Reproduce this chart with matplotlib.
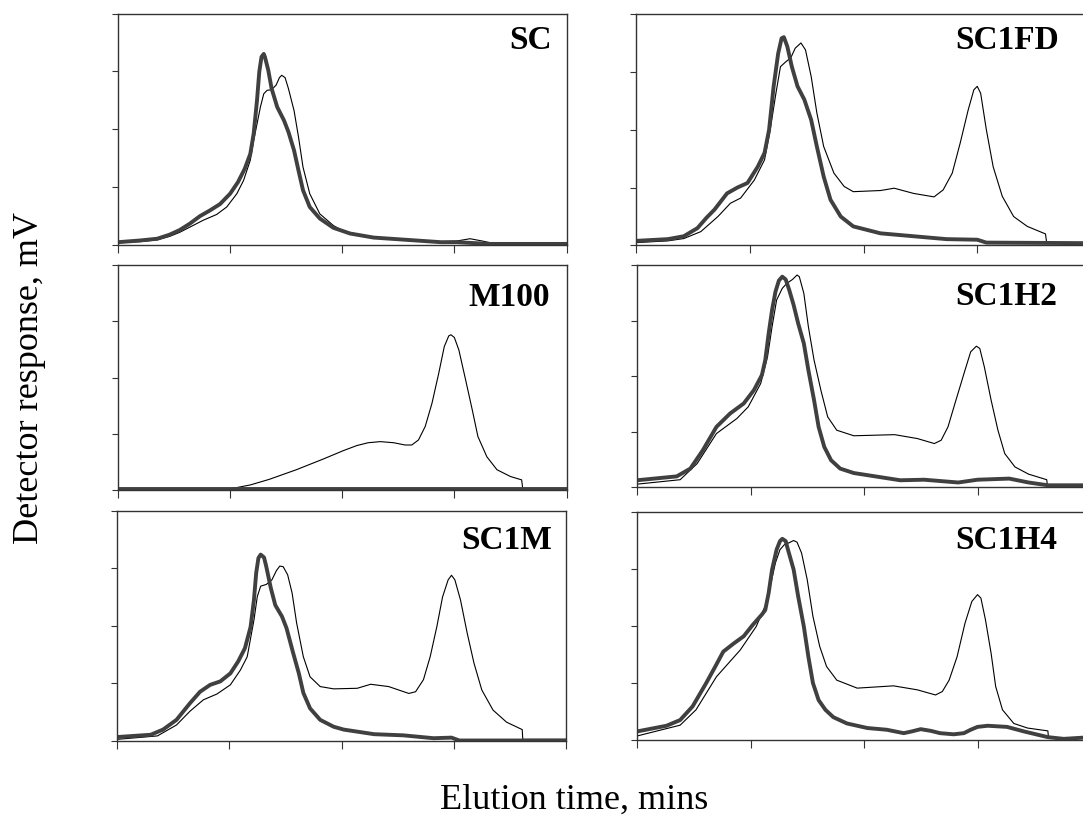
import matplotlib
matplotlib.use('Agg')
import matplotlib.pyplot as plt

plt.rcParams['font.family'] = ['Liberation Serif', 'DejaVu Serif']

# panel names
names = ['SC', 'SC1FD', 'M100', 'SC1H2', 'SC1M', 'SC1H4']

# SC
sc_thin_x = [0.0, 0.20, 0.35, 0.46, 0.55, 0.64, 0.76, 0.88, 0.97, 1.06, 1.12, 1.18, 1.21, 1.24, 1.27,
             1.30, 1.33, 1.37, 1.41, 1.44, 1.46, 1.49, 1.52, 1.57, 1.61, 1.65, 1.71, 1.80, 1.92, 2.01,
             2.28, 2.58, 2.88, 3.02, 3.14, 3.25, 3.32, 3.6, 4.0]
sc_thin_y = [0.03, 0.05, 0.08, 0.14, 0.21, 0.30, 0.42, 0.52, 0.65, 0.88, 1.11, 1.46, 1.80, 2.09, 2.38,
             2.61, 2.67, 2.68, 2.76, 2.89, 2.93, 2.89, 2.70, 2.32, 1.86, 1.34, 0.88, 0.53, 0.33, 0.23,
             0.12, 0.08, 0.05, 0.06, 0.10, 0.06, 0.03, 0.01, 0.01]
sc_thick_x = [0.0, 0.20, 0.35, 0.46, 0.55, 0.64, 0.73, 0.82, 0.91, 1.0, 1.07, 1.13, 1.18, 1.21, 1.24,
              1.26, 1.28, 1.30, 1.31, 1.34, 1.37, 1.42, 1.48, 1.52, 1.57, 1.61, 1.65, 1.71, 1.80, 1.92,
              2.07, 2.28, 2.58, 2.88, 3.02, 3.32, 4.0]
sc_thick_y = [0.04, 0.07, 0.10, 0.17, 0.25, 0.36, 0.49, 0.59, 0.70, 0.88, 1.08, 1.31, 1.57, 1.92, 2.50,
              2.99, 3.25, 3.30, 3.25, 3.02, 2.70, 2.38, 2.15, 1.95, 1.63, 1.28, 0.94, 0.65, 0.45, 0.29,
              0.19, 0.12, 0.08, 0.04, 0.04, 0.01, 0.01]

# SC1FD
fd_thin_x = [0.0, 0.28, 0.42, 0.57, 0.72, 0.83, 0.92, 1.04, 1.13, 1.18, 1.23, 1.27, 1.32, 1.36, 1.40,
             1.45, 1.49, 1.54, 1.59, 1.65, 1.74, 1.83, 1.91, 2.15, 2.27, 2.44, 2.62, 2.70, 2.78, 2.85,
             2.92, 2.97, 3.00, 3.03, 3.08, 3.14, 3.22, 3.32, 3.44, 3.60, 3.61, 4.0]
fd_thin_y = [0.05, 0.08, 0.12, 0.24, 0.50, 0.73, 0.82, 1.13, 1.48, 2.00, 2.63, 3.09, 3.18, 3.24, 3.41,
             3.50, 3.38, 2.92, 2.29, 1.71, 1.25, 1.02, 0.93, 0.95, 0.99, 0.90, 0.84, 0.96, 1.25, 1.77,
             2.34, 2.69, 2.75, 2.63, 2.00, 1.36, 0.85, 0.50, 0.33, 0.20, 0.05, 0.03]
fd_thick_x = [0.0, 0.28, 0.42, 0.54, 0.62, 0.69, 0.80, 0.89, 0.98, 1.07, 1.13, 1.17, 1.21, 1.25, 1.28,
              1.30, 1.33, 1.37, 1.42, 1.48, 1.54, 1.59, 1.65, 1.71, 1.80, 1.91, 2.15, 2.44, 2.73, 3.00,
              3.08, 4.0]
fd_thick_y = [0.08, 0.11, 0.16, 0.30, 0.48, 0.62, 0.90, 1.00, 1.08, 1.36, 1.60, 2.00, 2.75, 3.32, 3.58,
              3.60, 3.44, 3.09, 2.75, 2.52, 2.17, 1.71, 1.19, 0.79, 0.50, 0.33, 0.21, 0.16, 0.11, 0.10,
              0.05, 0.04]

# M100
m_thin_x = [0.0, 1.0, 1.18, 1.35, 1.59, 1.83, 2.01, 2.13, 2.23, 2.34, 2.46, 2.56, 2.62, 2.68, 2.74,
            2.80, 2.86, 2.91, 2.95, 2.97, 3.00, 3.04, 3.10, 3.16, 3.21, 3.29, 3.38, 3.50, 3.60, 3.61,
            4.0]
m_thin_y = [0.02, 0.02, 0.09, 0.19, 0.36, 0.55, 0.70, 0.79, 0.84, 0.86, 0.84, 0.80, 0.80, 0.89, 1.13,
            1.54, 2.07, 2.55, 2.74, 2.76, 2.71, 2.49, 1.96, 1.42, 0.95, 0.59, 0.36, 0.24, 0.18, 0.02,
            0.02]
m_thick_x = [0.0, 4.0]
m_thick_y = [0.02, 0.02]

# SC1H2
h2_thin_x = [0.0, 0.38, 0.53, 0.70, 0.88, 0.98, 1.09, 1.15, 1.19, 1.23, 1.28, 1.32, 1.37, 1.41, 1.43,
             1.47, 1.51, 1.56, 1.62, 1.68, 1.76, 1.91, 2.27, 2.47, 2.62, 2.68, 2.74, 2.81, 2.89, 2.94,
             2.99, 3.02, 3.06, 3.12, 3.18, 3.24, 3.33, 3.45, 3.61, 3.615, 4.0]
h2_thin_y = [0.06, 0.14, 0.43, 0.97, 1.24, 1.45, 1.87, 2.35, 2.89, 3.37, 3.58, 3.67, 3.74, 3.82, 3.79,
             3.49, 2.89, 2.29, 1.75, 1.27, 1.03, 0.93, 0.95, 0.88, 0.79, 0.85, 1.09, 1.57, 2.11, 2.44,
             2.54, 2.50, 2.17, 1.57, 1.03, 0.61, 0.37, 0.24, 0.14, 0.05, 0.04]
h2_thick_x = [0.0, 0.35, 0.47, 0.58, 0.70, 0.76, 0.82, 0.94, 1.03, 1.10, 1.13, 1.16, 1.19, 1.22, 1.25,
              1.28, 1.31, 1.34, 1.38, 1.42, 1.47, 1.51, 1.56, 1.60, 1.65, 1.71, 1.79, 1.91, 2.32, 2.53,
              2.83, 3.00, 3.28, 3.45, 3.62, 4.0]
h2_thick_y = [0.13, 0.20, 0.34, 0.67, 1.09, 1.21, 1.33, 1.51, 1.75, 2.02, 2.29, 2.77, 3.19, 3.52, 3.72,
              3.79, 3.74, 3.56, 3.28, 2.95, 2.59, 2.11, 1.57, 1.09, 0.73, 0.49, 0.34, 0.26, 0.13, 0.14,
              0.09, 0.14, 0.16, 0.09, 0.04, 0.04]

# SC1M
m1_thin_x = [0.0, 0.36, 0.53, 0.65, 0.77, 0.89, 1.01, 1.10, 1.16, 1.22, 1.25, 1.28, 1.33, 1.38, 1.42,
             1.45, 1.48, 1.52, 1.56, 1.60, 1.66, 1.72, 1.81, 1.93, 2.14, 2.26, 2.42, 2.60, 2.66, 2.73,
             2.79, 2.85, 2.90, 2.95, 2.98, 3.01, 3.06, 3.12, 3.18, 3.25, 3.35, 3.47, 3.61, 3.615, 4.0]
m1_thin_y = [0.02, 0.08, 0.27, 0.51, 0.71, 0.81, 0.97, 1.23, 1.46, 2.10, 2.51, 2.69, 2.72, 2.80, 2.96,
             3.04, 3.03, 2.89, 2.57, 2.05, 1.46, 1.11, 0.94, 0.90, 0.91, 0.98, 0.94, 0.82, 0.85, 1.06,
             1.46, 1.99, 2.50, 2.80, 2.88, 2.80, 2.45, 1.87, 1.35, 0.88, 0.53, 0.32, 0.19, 0.02, 0.02]
m1_thick_x = [0.0, 0.30, 0.41, 0.53, 0.65, 0.74, 0.83, 0.92, 1.01, 1.08, 1.14, 1.19, 1.22, 1.24, 1.26,
              1.28, 1.31, 1.33, 1.37, 1.41, 1.47, 1.51, 1.57, 1.62, 1.66, 1.72, 1.81, 1.93, 2.02, 2.29,
              2.55, 2.82, 2.98, 3.05, 4.0]
m1_thick_y = [0.06, 0.10, 0.19, 0.36, 0.65, 0.85, 0.97, 1.03, 1.17, 1.38, 1.61, 1.98, 2.45, 2.92, 3.18,
              3.24, 3.19, 3.03, 2.66, 2.36, 2.16, 1.96, 1.52, 1.17, 0.83, 0.56, 0.36, 0.24, 0.19, 0.11,
              0.09, 0.04, 0.05, 0.0, 0.0]

# SC1H4
h4_thin_x = [0.0, 0.38, 0.52, 0.70, 0.91, 1.05, 1.14, 1.18, 1.22, 1.26, 1.30, 1.34, 1.38, 1.41, 1.45,
             1.50, 1.55, 1.61, 1.67, 1.76, 1.94, 2.26, 2.47, 2.63, 2.69, 2.75, 2.82, 2.89, 2.95, 3.00,
             3.03, 3.07, 3.12, 3.16, 3.22, 3.32, 3.44, 3.62, 3.625, 3.76, 4.0]
h4_thin_y = [0.07, 0.26, 0.53, 1.11, 1.58, 1.99, 2.40, 2.75, 3.11, 3.34, 3.43, 3.46, 3.50, 3.47, 3.28,
             2.81, 2.17, 1.64, 1.29, 1.05, 0.91, 0.95, 0.88, 0.79, 0.85, 1.05, 1.46, 2.05, 2.43, 2.55,
             2.49, 2.11, 1.52, 0.94, 0.53, 0.29, 0.21, 0.16, 0.05, 0.02, 0.05]
h4_thick_x = [0.0, 0.26, 0.38, 0.49, 0.61, 0.69, 0.76, 0.85, 0.94, 1.02, 1.10, 1.13, 1.16, 1.19, 1.23,
              1.26, 1.28, 1.31, 1.33, 1.38, 1.42, 1.47, 1.51, 1.55, 1.60, 1.66, 1.73, 1.85, 2.03, 2.20,
              2.35, 2.42, 2.50, 2.59, 2.67, 2.79, 2.88, 2.94, 3.00, 3.09, 3.26, 3.41, 3.62, 3.76, 4.0]
h4_thick_y = [0.15, 0.25, 0.35, 0.59, 1.0, 1.29, 1.55, 1.69, 1.82, 2.02, 2.20, 2.28, 2.58, 2.99, 3.34,
              3.49, 3.53, 3.49, 3.34, 2.99, 2.52, 1.99, 1.46, 1.00, 0.70, 0.53, 0.40, 0.29, 0.21, 0.18,
              0.12, 0.15, 0.19, 0.16, 0.12, 0.10, 0.12, 0.18, 0.23, 0.25, 0.23, 0.15, 0.05, 0.02, 0.05]

thin_lines = [(sc_thin_x, sc_thin_y), (fd_thin_x, fd_thin_y), (m_thin_x, m_thin_y),
              (h2_thin_x, h2_thin_y), (m1_thin_x, m1_thin_y), (h4_thin_x, h4_thin_y)]
thick_lines = [(sc_thick_x, sc_thick_y), (fd_thick_x, fd_thick_y), (m_thick_x, m_thick_y),
               (h2_thick_x, h2_thick_y), (m1_thick_x, m1_thick_y), (h4_thick_x, h4_thick_y)]

W, H = 1083, 821
fig = plt.figure(figsize=(W / 100, H / 100), dpi=100)

# panel boxes in pixels: left, right, top, bottom
boxes = [(118, 566.5, 13.5, 244.5), (636, 1091, 14, 245.5),
         (118, 566.5, 265, 490), (637, 1091, 265, 487.5),
         (117, 566, 511, 740.5), (637, 1091, 512, 740)]
# label anchor in pixels (x, top, ha)
label_pos = [(552, 25, 'right'), (955, 25, 'left'),
             (550, 282, 'right'), (955, 281, 'left'),
             (552, 525, 'right'), (955, 525, 'left')]

for i in range(6):
    l, r, t, b = boxes[i]
    ax = fig.add_axes([l / W, 1 - b / H, (r - l) / W, (b - t) / H])
    ax.plot(thin_lines[i][0], thin_lines[i][1], color='black', lw=0.8,
            solid_joinstyle='round')
    ax.plot(thick_lines[i][0], thick_lines[i][1], color='#404040', lw=2.8,
            solid_capstyle='round', solid_joinstyle='round')
    ax.set_xlim(0, 4)
    ax.set_ylim(0, 4)
    ax.set_xticks([0, 1, 2, 3, 4])
    ax.set_yticks([0, 1, 2, 3, 4])
    ax.set_xticklabels([])
    ax.set_yticklabels([])
    ax.tick_params(axis='x', direction='out', length=6, width=0.8, color='#333333')
    ax.tick_params(axis='y', direction='out', length=4, width=0.8, color='#333333')
    for s in ax.spines.values():
        s.set_linewidth(1.0)
        s.set_color('#333333')
    lx, ly, ha = label_pos[i]
    fig.text(lx / W, 1 - ly / H, names[i], ha=ha, va='top', fontsize=24, fontweight='bold')

fig.text(574 / W, 1 - 800 / H, 'Elution time, mins', ha='center', va='center', fontsize=26)
fig.text(30 / W, 1 - 378 / H, 'Detector response, mV', ha='center', va='center',
         rotation=90, fontsize=26)

fig.savefig('out.png', dpi=100)
